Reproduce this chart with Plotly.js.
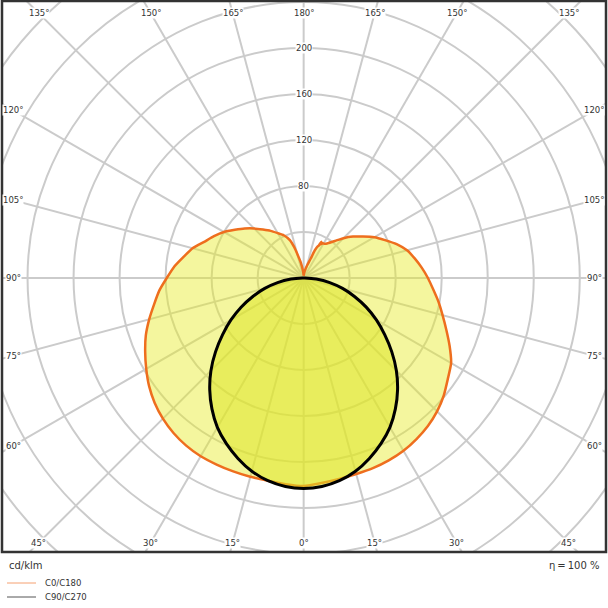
<!DOCTYPE html>
<html><head><meta charset="utf-8">
<script src="https://cdn.plot.ly/plotly-3.0.1.min.js"></script>
<style>html,body{margin:0;padding:0;background:#fff}#chart{width:608px;height:608px}</style>
</head><body><div id="chart"></div>
<script>
// Angles (gamma, degrees from nadir) and luminous intensities (cd/klm)
const gammaC0 = [0,5,10,15,20,25,30,35,40,45,50,55,60,65,70,75,80,85,90,95,100,105,110,115,120,125,130,135,140,145,148,151,153,154,155,156,158,160,165,170,175,180];
const valuesC0 = [181,179,177.5,176.5,176,175,173.5,171,168,164,159,153,148,140,132,125,119,113,108,103,98,93,86,78,71,63,56,49,42,37,35,34.5,33,35,31,30,26,18,11,7,4,2];
const gammaC180 = [0,5,10,15,20,25,30,35,40,45,50,55,60,65,70,75,80,85,90,95,100,105,110,115,120,125,130,135,140,145,150,155,160,163,165,170,175,180];
const valuesC180 = [181,180,179,179,179,179,179,178,176,173,169,164,158,152,146,139,132,126,119,113,106,100,92,86,80,73,67,61,55,50,45,41,35,28,22,13,6,2];
const gammaC90 = [0,5,10,15,20,25,30,35,40,45,50,55,60,65,70,75,80,85,90];
const valuesC90 = [183,182,179,174,167,159,150,139,127,114,100,86,73,60,47,35,23,11,1];
const valuesC270 = [183,182,179,174,167,159,150,139,127,114,100,86,73,60,47,35,23,11,1];
const ringValues = [40,80,120,160,200,240,280,320,360,400];
const ringLabels = ['80','120','160','200'];
const angleTicks = [0,15,30,45,60,75,90,105,120,135,150,165,180];
const seriesNames = ['C0/C180','C90/C270'];

const rad = d => d*Math.PI/180;
function halfToXY(g, v, side){ // side +1 right, -1 left
  return g.map((a,i)=>({x: side*v[i]*Math.sin(rad(a)), y: -v[i]*Math.cos(rad(a))}));
}
function closedCurve(gR, vR, gL, vL){
  const r = halfToXY(gR, vR, 1);
  const l = halfToXY(gL, vL, -1).reverse();
  const pts = r.concat(l.slice(0,-1));
  pts.push(pts[0]);
  return {x: pts.map(p=>p.x), y: pts.map(p=>p.y)};
}
const cOrange = closedCurve(gammaC0, valuesC0, gammaC180, valuesC180);
const cBlack = closedCurve(gammaC90, valuesC90, gammaC90, valuesC270);

const XR = [-262.2, 262.8], YR = [-238.3, 240.9];
const shapes = [];
const gridCol = '#cbcbcb';
ringValues.forEach(r=>shapes.push({type:'circle',xref:'x',yref:'y',x0:-r,y0:-r,x1:r,y1:r,line:{color:gridCol,width:2},layer:'below'}));
angleTicks.forEach(a=>{
  [1,-1].forEach(s=>{
    if ((a===0||a===180) && s<0) return;
    shapes.push({type:'line',xref:'x',yref:'y',x0:0,y0:0,x1:s*500*Math.sin(rad(a)),y1:-500*Math.cos(rad(a)),line:{color:gridCol,width:2},layer:'below'});
  });
});
// frame
shapes.push({type:'rect',xref:'paper',yref:'paper',x0:0,y0:0,x1:1,y1:1,line:{color:'#333',width:2.5}});
// legend samples
shapes.push({type:'line',xref:'paper',yref:'paper',x0:(7-2)/604,x1:(36-2)/604,y0:(552-583)/551,y1:(552-583)/551,line:{color:'#f5a070',width:1}});
shapes.push({type:'line',xref:'paper',yref:'paper',x0:(7-2)/604,x1:(36-2)/604,y0:(552-597)/551,y1:(552-597)/551,line:{color:'#555',width:1}});

const ann = [];
const txtCol = '#333';
const ff = 'DejaVu Sans, sans-serif';
ringLabels.forEach(t=>ann.push({x:0,y:+t,xref:'x',yref:'y',text:t,showarrow:false,font:{family:ff,size:8.5,color:txtCol},bgcolor:'#fff',borderpad:0}));
const insetY = 230.4, insetX = 252.6;
angleTicks.forEach(a=>{
  [1,-1].forEach(s=>{
    if ((a===0||a===180) && s<0) return;
    const phi = a<=90 ? a : 180-a; // angle from vertical
    const up = a>90 ? 1 : -1;
    let x,y;
    if (a!==90 && insetY*Math.tan(rad(phi)) <= insetX) { y = up*insetY; x = s*insetY*Math.tan(rad(phi)); }
    else { x = s*insetX; y = a===90 ? 0 : up*insetX/Math.tan(rad(phi)); }
    ann.push({x:x,y:y,xref:'x',yref:'y',text:a+'°',showarrow:false,font:{family:ff,size:8.5,color:txtCol},bgcolor:'#fff',borderpad:0});
  });
});
ann.push({xref:'paper',yref:'paper',x:(7-2)/604,y:(552-565)/551,xanchor:'left',yanchor:'middle',text:'cd/klm',showarrow:false,font:{family:ff,size:10,color:txtCol}});
ann.push({xref:'paper',yref:'paper',x:(601-2)/604,y:(552-565)/551,xanchor:'right',yanchor:'middle',text:'η\u2009=\u2009100 %',showarrow:false,font:{family:ff,size:10,color:txtCol}});
ann.push({xref:'paper',yref:'paper',x:(43-2)/604,y:(552-583)/551,xanchor:'left',yanchor:'middle',text:seriesNames[0],showarrow:false,font:{family:ff,size:8.5,color:txtCol}});
ann.push({xref:'paper',yref:'paper',x:(43-2)/604,y:(552-597)/551,xanchor:'left',yanchor:'middle',text:seriesNames[1],showarrow:false,font:{family:ff,size:8.5,color:txtCol}});

const traces = [
  {type:'scatter',mode:'lines',x:cOrange.x,y:cOrange.y,fill:'toself',fillcolor:'rgba(230,236,40,0.45)',line:{color:'#ee6e1e',width:2.5,shape:'spline',smoothing:0.5},name:seriesNames[0],hoverinfo:'skip'},
  {type:'scatter',mode:'lines',x:cBlack.x,y:cBlack.y,fill:'toself',fillcolor:'rgba(222,230,40,0.55)',line:{color:'#000',width:3,shape:'spline',smoothing:0.6},name:seriesNames[1],hoverinfo:'skip'}
];
const layout = {
  width:608,height:608,margin:{l:2,r:2,t:1,b:56},paper_bgcolor:'#fff',plot_bgcolor:'#fff',showlegend:false,
  xaxis:{range:XR,visible:false,fixedrange:true},
  yaxis:{range:YR,visible:false,fixedrange:true},
  shapes:shapes,annotations:ann
};
Plotly.newPlot('chart',traces,layout,{staticPlot:true});
</script></body></html>
